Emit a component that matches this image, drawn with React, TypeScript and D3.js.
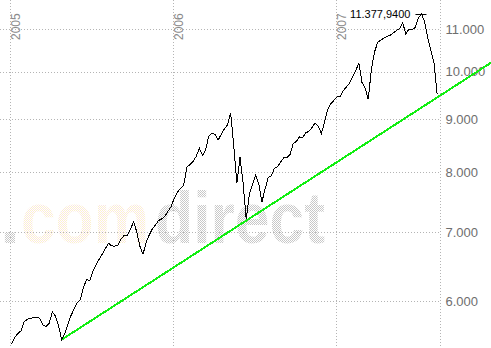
import React from "react";
import * as d3 from "d3";

const W = 491;
const H = 348;

// Weekly closes starting with the week of 2005-01-03
const weekStart = "2005-01-03";
const weeklyCloses = [
  5462, 5545, 5588, 5624, 5734, 5771, 5783, 5789, 5797, 5783,
  5700, 5679, 5716, 5865, 5813, 5691, 5514, 5588, 5704, 5819,
  5905, 5988, 6025, 6202, 6302, 6284, 6417, 6515, 6595, 6670,
  6758, 6833, 6794, 6789, 6804, 6898, 6955, 6958, 7056, 7165,
  7010, 6789, 6667, 6847, 6962, 7056, 7120, 7190, 7215, 7257,
  7340, 7415, 7557, 7657, 7723, 7773, 8095, 8140, 8197, 8291,
  8442, 8310, 8405, 8669, 8726, 8707, 8594, 8707, 8811, 8896,
  9137, 8499, 7807, 8272, 7807, 7207, 7623, 7790, 7948, 7798,
  7490, 7707, 7907, 7940, 8074, 8102, 8187, 8263, 8272, 8329,
  8527, 8569, 8660, 8641, 8735, 8764, 8839, 8928, 8868, 8726,
  8938, 9200, 9318, 9390, 9464, 9468, 9591, 9675, 9759, 9897,
  10038, 10201, 9770, 9648, 9411, 10073, 10458, 10687, 10736, 10790,
  10827, 10858, 10914, 10970, 11018, 11154, 10890, 11008, 10984, 11046,
  11284, 11377.94, 11187, 10797, 10493, 10201, 9532,
];

const yTicks = [6000, 7000, 8000, 9000, 10000, 11000];
const yearTicks = ["2005-01-01", "2006-01-01", "2007-01-01"];
const trendDates = ["2005-04-25", "2007-12-13"];
const trendValues = [5514, 10221];
const domainDates = ["2005-01-01", "2007-08-21"];
const watermarkParts = [".", "com", "direct"];

const parse = d3.timeParse("%Y-%m-%d");
const de = d3.formatLocale({
  decimal: ",",
  thousands: ".",
  grouping: [3],
  currency: ["", " €"],
});
const fmtTick = de.format(",.0f");
const fmtMax = de.format(",.4f");

type Pt = { date: Date; value: number };

export default function App() {
  const start = parse(weekStart) as Date;
  const data: Pt[] = weeklyCloses.map((v, i) => ({
    date: d3.timeWeek.offset(start, i),
    value: v,
  }));
  const trend: Pt[] = trendDates.map((d, i) => ({
    date: parse(d) as Date,
    value: trendValues[i],
  }));

  const x = d3
    .scaleTime()
    .domain(domainDates.map((d) => parse(d) as Date))
    .range([10.7, 440.7]);
  const y = d3.scaleLog().domain([6000, 11000]).range([301.7, 29.3]);

  const line = d3
    .line<Pt>()
    .x((d) => x(d.date))
    .y((d) => y(d.value));

  const maxD = data.reduce((a, b) => (b.value > a.value ? b : a));
  const px = x(maxD.date);
  const py = y(maxD.value);
  const plotRight = x(parse(domainDates[1]) as Date);

  const gridColor = "#b4b4b4";
  const font = "'Liberation Sans', Arial, sans-serif";

  // watermark placement (pixel layout only)
  const wmX = [0, 21, 155];
  const wmLen = [0, 128, 170];

  return (
    <svg
      width={W}
      height={H}
      style={{ position: "absolute", left: 0, top: 0, background: "#fff" }}
    >
      <defs>
        <pattern id="wmGray" width={2} height={2} patternUnits="userSpaceOnUse">
          <rect x={0} y={0} width={1} height={1} fill="#c6c6c6" />
          <rect x={1} y={1} width={1} height={1} fill="#cacaca" />
        </pattern>
        <pattern id="wmYellow" width={2} height={2} patternUnits="userSpaceOnUse">
          <rect x={0} y={0} width={1} height={1} fill="#fcf1cc" />
          <rect x={1} y={1} width={1} height={1} fill="#fae6e2" />
        </pattern>
      </defs>
      <rect x={0} y={0} width={W} height={H} fill="#fff" />

      {/* watermark */}
      {watermarkParts.map((p, i) => (
        <text
          key={"wm" + i}
          x={wmX[i]}
          y={243}
          fontFamily={font}
          fontWeight="bold"
          fontSize={72}
          fill={i === 1 ? "url(#wmYellow)" : "url(#wmGray)"}
          {...(wmLen[i] > 0
            ? { textLength: wmLen[i], lengthAdjust: "spacingAndGlyphs" }
            : {})}
        >
          {p}
        </text>
      ))}

      {/* horizontal grid */}
      {yTicks.map((t) => {
        const yy = Math.floor(y(t)) + 0.5;
        return (
          <line
            key={"h" + t}
            x1={0}
            x2={plotRight}
            y1={yy}
            y2={yy}
            stroke={gridColor}
            strokeWidth={1}
            strokeDasharray="1,2"
          />
        );
      })}
      {/* vertical grid */}
      {yearTicks.map((d) => {
        const xx = Math.floor(x(parse(d) as Date)) + 0.5;
        return (
          <line
            key={"v" + d}
            x1={xx}
            x2={xx}
            y1={0}
            y2={H}
            stroke={gridColor}
            strokeWidth={1}
            strokeDasharray="1,2"
          />
        );
      })}
      <line
        x1={Math.floor(plotRight) + 0.5}
        x2={Math.floor(plotRight) + 0.5}
        y1={0}
        y2={H}
        stroke={gridColor}
        strokeWidth={1}
        strokeDasharray="1,2"
      />

      {/* year labels */}
      {yearTicks.map((d) => {
        const xx = Math.floor(x(parse(d) as Date)) + 10;
        return (
          <text
            key={"yl" + d}
            transform={`translate(${xx},40) rotate(-90)`}
            fontFamily={font}
            fontSize={12}
            fill="#8a8a8a"
          >
            {d.slice(0, 4)}
          </text>
        );
      })}

      {/* y labels */}
      {yTicks.map((t) => (
        <text
          key={"t" + t}
          x={445.5}
          y={y(t)}
          dy="0.33em"
          fontFamily={font}
          fontSize={13}
          fill="#6e6e6e"
        >
          {fmtTick(t)}
        </text>
      ))}

      {/* trend line */}
      <path
        d={line(trend) || ""}
        fill="none"
        stroke="#11ee11"
        strokeWidth={2}
        shapeRendering="crispEdges"
      />

      {/* price line */}
      <path
        d={line(data) || ""}
        fill="none"
        stroke="#000"
        strokeWidth={1}
        strokeLinejoin="miter"
        shapeRendering="crispEdges"
      />

      {/* max annotation */}
      <line
        x1={px - 6}
        x2={px + 5}
        y1={Math.floor(py) + 0.5}
        y2={Math.floor(py) + 0.5}
        stroke="#000"
        strokeWidth={1}
      />
      <text
        x={px - 11}
        y={py}
        dy="0.35em"
        textAnchor="end"
        fontFamily={font}
        fontSize={11}
        fill="#000"
      >
        {fmtMax(maxD.value)}
      </text>
    </svg>
  );
}
